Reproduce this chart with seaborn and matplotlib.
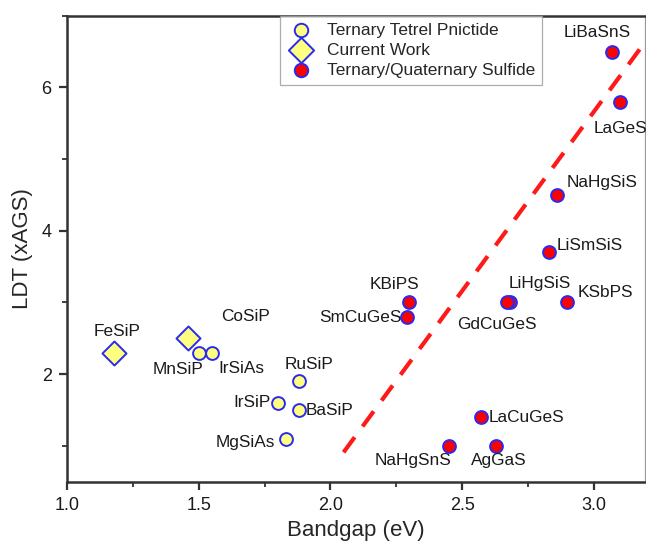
import matplotlib
matplotlib.use("Agg")
import matplotlib.pyplot as plt
import seaborn as sns
import pandas as pd
from matplotlib.ticker import MultipleLocator

sns.set_style("white")
plt.rcParams["font.family"] = ["Liberation Sans", "DejaVu Sans"]

# Ternary tetrel pnictides (literature)
pnictide_names = ["MnSiP", "IrSiAs", "RuSiP", "IrSiP", "BaSiP", "MgSiAs"]
pnictide_gap = [1.50, 1.55, 1.88, 1.80, 1.88, 1.83]
pnictide_ldt = [2.3, 2.3, 1.9, 1.6, 1.5, 1.1]

# Current work
current_names = ["FeSiP", "CoSiP"]
current_gap = [1.18, 1.46]
current_ldt = [2.3, 2.5]

# Ternary / quaternary sulfides
sulfide_names = ["LiBaSnS", "LaGeS", "NaHgSiS", "LiSmSiS", "KBiPS", "SmCuGeS",
                 "LiHgSiS", "GdCuGeS", "KSbPS", "LaCuGeS", "NaHgSnS", "AgGaS"]
sulfide_gap = [3.07, 3.10, 2.86, 2.83, 2.30, 2.29, 2.68, 2.67, 2.90, 2.57, 2.45, 2.63]
sulfide_ldt = [6.5, 5.8, 4.5, 3.7, 3.0, 2.8, 3.0, 3.0, 3.0, 1.4, 1.0, 1.0]

# Guide line through the sulfide trend
guide_gap = [2.05, 3.19]
guide_ldt = [0.91, 6.61]

# Label anchor positions (data units) and horizontal alignment
label_pos = {
    "MnSiP": (1.42, 2.07, "center"), "IrSiAs": (1.575, 2.08, "left"),
    "CoSiP": (1.677, 2.80, "center"), "FeSiP": (1.19, 2.60, "center"),
    "RuSiP": (1.92, 2.13, "center"), "IrSiP": (1.772, 1.61, "right"),
    "BaSiP": (1.905, 1.49, "left"), "MgSiAs": (1.79, 1.05, "right"),
    "LiBaSnS": (3.011, 6.76, "center"), "LaGeS": (3.10, 5.43, "center"),
    "NaHgSiS": (2.895, 4.68, "left"), "LiSmSiS": (2.86, 3.79, "left"),
    "KBiPS": (2.245, 3.25, "center"), "SmCuGeS": (2.272, 2.79, "right"),
    "LiHgSiS": (2.795, 3.26, "center"), "GdCuGeS": (2.631, 2.69, "center"),
    "KSbPS": (3.043, 3.14, "center"), "LaCuGeS": (2.60, 1.40, "left"),
    "NaHgSnS": (2.314, 0.79, "center"), "AgGaS": (2.64, 0.80, "center"),
}

pnictides = pd.DataFrame({"name": pnictide_names, "gap": pnictide_gap, "ldt": pnictide_ldt})
current = pd.DataFrame({"name": current_names, "gap": current_gap, "ldt": current_ldt})
sulfides = pd.DataFrame({"name": sulfide_names, "gap": sulfide_gap, "ldt": sulfide_ldt})
guide = pd.DataFrame({"gap": guide_gap, "ldt": guide_ldt})

fig = plt.figure(figsize=(6.46, 5.48), dpi=100)
ax = fig.add_axes([0.1037, 0.121, 0.895, 0.8504])

edge = "#2a2af0"
sns.lineplot(data=guide, x="gap", y="ldt", ax=ax, color="#ff1a1a", lw=3,
             dashes=(4.5, 3.2), zorder=1)
sns.scatterplot(data=pnictides, x="gap", y="ldt", ax=ax, marker="o", s=85,
                color="#ffff80", edgecolor=edge, linewidth=1.4,
                label="Ternary Tetrel Pnictide", zorder=3)
sns.scatterplot(data=current, x="gap", y="ldt", ax=ax, marker="D", s=150,
                color="#ffff80", edgecolor=edge, linewidth=1.4,
                label="Current Work", zorder=3)
sns.scatterplot(data=sulfides, x="gap", y="ldt", ax=ax, marker="o", s=85,
                color="#ff0000", edgecolor=edge, linewidth=1.4,
                label="Ternary/Quaternary Sulfide", zorder=3)

for name, (tx, ty, ha) in label_pos.items():
    ax.text(tx, ty, name, ha=ha, va="center", fontsize=12.4, color="#1a1a1a")

ax.set_xlim(1.0, 3.195)
ax.set_ylim(0.5, 7.0)
ax.xaxis.set_major_locator(MultipleLocator(0.5))
ax.xaxis.set_minor_locator(MultipleLocator(0.25))
ax.yaxis.set_major_locator(MultipleLocator(2))
ax.yaxis.set_minor_locator(MultipleLocator(1))
ax.set_xticks([1.0, 1.5, 2.0, 2.5, 3.0])
ax.set_xticklabels(["1.0", "1.5", "2.0", "2.5", "3.0"])
ax.tick_params(which="major", direction="out", length=6, width=1.6,
               labelsize=13, color="#333333", labelcolor="#1a1a1a",
               bottom=True, left=True, pad=5)
ax.tick_params(which="minor", direction="out", length=3.5, width=1.3,
               color="#333333", bottom=True, left=True)

ax.set_xlabel("Bandgap (eV)", fontsize=16, labelpad=4)
ax.set_ylabel("LDT (xAGS)", fontsize=16, labelpad=6)

for side in ("left", "bottom", "top"):
    ax.spines[side].set_color("#333333")
    ax.spines[side].set_linewidth(1.8)
ax.spines["right"].set_color("#999999")
ax.spines["right"].set_linewidth(0.9)

leg = ax.legend(loc="upper right", bbox_to_anchor=(0.822, 1.0), fontsize=12.5,
                frameon=True, fancybox=False, borderpad=0.4, labelspacing=0.28,
                handletextpad=0.7, borderaxespad=0, handlelength=1.6,
                markerscale=1.05)
leg.get_frame().set_edgecolor("#999999")
leg.get_frame().set_linewidth(0.9)

fig.savefig("out.png", dpi=100)
